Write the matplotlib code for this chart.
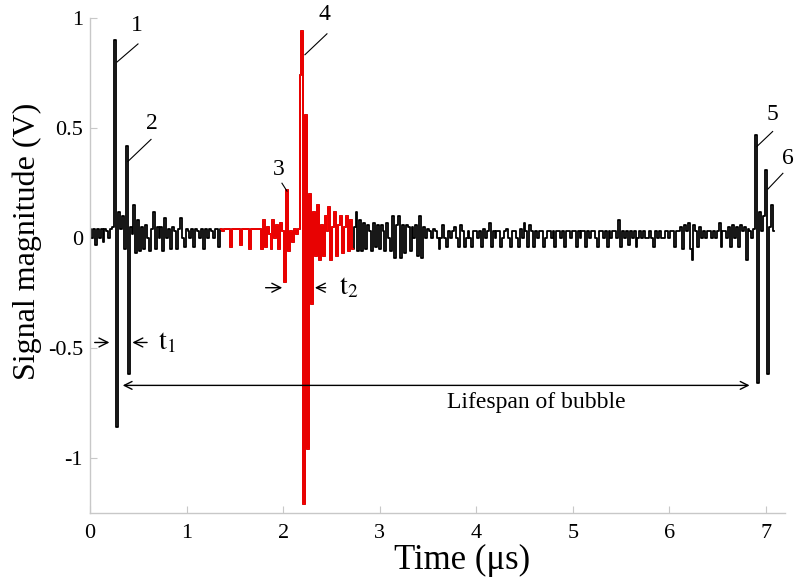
import numpy as np
import matplotlib
matplotlib.use('Agg')
import matplotlib.pyplot as plt

plt.rcParams['font.family'] = ['Liberation Serif', 'DejaVu Serif']
plt.rcParams['mathtext.fontset'] = 'stix'

dt = 0.02
signal = [
    0.04, 0.0, 0.04, -0.03, 0.04, 0.0, 0.04, -0.02, 0.04, 0.03,
    0.0, 0.04, 0.05, 0.90, -0.86, 0.12, 0.04, 0.10, -0.05, 0.42,
    -0.62, 0.05, 0.02, 0.15, -0.07, 0.08, -0.06, 0.05, -0.05, 0.06,
    0.0, -0.06, 0.04, 0.12, -0.05, 0.05, 0.0, 0.05, -0.06, 0.09,
    0.0, 0.04, -0.05, 0.05, 0.03, -0.05, 0.04, 0.09, 0.0, -0.04,
    0.04, 0.03, 0.0, 0.04, -0.04, 0.04, 0.03, 0.0, 0.04, -0.05,
    0.04, 0.0, 0.04, 0.03, 0.0, 0.04, 0.04, -0.04, 0.04, 0.03,
    0.04, 0.04, 0.04, -0.04, 0.04, 0.04, 0.04, 0.04, -0.03, 0.04,
    0.04, 0.04, 0.04, -0.05, 0.04, 0.04, 0.04, 0.04, 0.04, -0.05,
    0.08, -0.04, 0.05, 0.02, -0.05, 0.08, 0.0, 0.06, -0.05, 0.07,
    0.03, -0.20, 0.22, -0.06, 0.03, -0.02, 0.04, 0.02, 0.04, 0.74,
    0.94, -1.21, 0.56, -0.96, 0.20, -0.30, 0.12, -0.08, 0.15, -0.10,
    0.06, -0.08, 0.10, 0.03, 0.14, -0.10, 0.05, 0.12, -0.08, 0.06,
    0.10, -0.07, 0.05, 0.10, -0.06, 0.08, -0.05, 0.05, 0.12, -0.06,
    0.08, -0.06, 0.07, -0.05, 0.06, 0.03, -0.06, 0.07, -0.04, 0.06,
    -0.05, 0.06, 0.03, -0.06, 0.07, 0.0, -0.06, 0.10, -0.09, 0.06,
    0.10, -0.09, 0.06, -0.07, 0.06, 0.05, -0.06, 0.05, 0.0, 0.06,
    -0.08, 0.10, -0.09, 0.05, 0.0, 0.04, 0.03, 0.0, 0.04, 0.03,
    0.0, -0.05, 0.0, 0.06, 0.0, -0.04, 0.03, 0.0, 0.03, 0.05,
    0.0, -0.04, 0.06, 0.03, -0.04, 0.0, 0.03, 0.0, -0.04, 0.03,
    0.03, 0.0, 0.03, -0.04, 0.04, 0.0, 0.03, 0.07, -0.04, 0.03,
    0.0, 0.03, 0.03, -0.04, 0.0, 0.03, 0.04, 0.0, -0.04, 0.03,
    0.03, 0.0, -0.04, 0.04, 0.0, 0.07, 0.03, -0.04, 0.06, 0.03,
    -0.04, 0.03, 0.0, 0.03, 0.03, -0.04, 0.0, 0.03, 0.03, 0.0,
    0.03, -0.04, 0.03, 0.03, 0.0, 0.03, -0.04, 0.03, 0.03, 0.0,
    0.03, 0.03, -0.04, 0.03, 0.0, 0.03, 0.03, -0.04, 0.03, 0.0,
    0.03, 0.03, 0.0, -0.04, 0.03, 0.03, 0.0, 0.03, -0.04, 0.03,
    0.0, 0.03, 0.03, 0.0, 0.08, -0.04, 0.03, 0.0, 0.03, -0.03,
    0.03, 0.0, 0.03, -0.04, 0.0, 0.03, 0.0, 0.03, 0.0, 0.0,
    0.03, 0.0, -0.04, 0.03, 0.0, 0.03, 0.0, 0.0, 0.03, 0.03,
    0.0, 0.03, 0.03, -0.04, 0.03, 0.03, 0.05, -0.05, 0.06, 0.03,
    0.07, -0.05, -0.10, 0.06, 0.03, -0.04, 0.05, 0.0, 0.03, 0.0,
    0.03, 0.03, 0.0, 0.03, 0.0, 0.03, 0.07, -0.04, 0.03, 0.03,
    0.0, 0.05, -0.04, 0.06, 0.0, 0.05, -0.04, 0.06, 0.03, 0.05,
    -0.10, 0.04, 0.03, 0.0, 0.04, 0.47, -0.66, 0.12, 0.03, 0.10,
    0.31, -0.62, 0.05, 0.15, 0.03,
]
red_window = (1.36, 2.72)   # part of the trace drawn in red (us)
x_ticks = [0, 1, 2, 3, 4, 5, 6, 7]
y_ticks = [-1, -0.5, 0, 0.5, 1]

signal = np.array(signal)
t = np.arange(len(signal)) * dt
red = (t >= red_window[0] - 1e-9) & (t <= red_window[1] + 1e-9)

fig = plt.figure(figsize=(8, 5.84), dpi=100)
ax = fig.add_axes([0.1125, 0.1216, 0.869, 0.8476])

ax.plot(t, signal, color='black', lw=1.3, drawstyle='steps-mid')
ax.plot(t[red], signal[red], color='red', lw=1.3, drawstyle='steps-mid')

ax.set_xlim(0, 7.2)
ax.set_ylim(-1.25, 1.0)
ax.set_xticks(x_ticks)
ax.set_yticks(y_ticks)
ax.set_xticklabels([str(v) for v in x_ticks])
ax.set_yticklabels(['-1', '-0.5', '0', '0.5', '1'])
for s in ['top', 'right']:
    ax.spines[s].set_visible(False)
for s in ['left', 'bottom']:
    ax.spines[s].set_color('#c8c8c8')
    ax.spines[s].set_linewidth(1.0)
ax.tick_params(direction='in', length=5, color='#c8c8c8', labelsize=16, pad=5)
ax.tick_params(axis='x', pad=8)

ax.set_xlabel('Time (μs)', fontsize=25)
ax.xaxis.set_label_coords(0.535, -0.062, transform=ax.transAxes)
ax.xaxis.label.set_va('top')
ax.set_ylabel('Signal magnitude (V)', fontsize=23)
ax.yaxis.set_label_coords(-0.0906, 0.549, transform=ax.transAxes)
ax.yaxis.label.set_va('center')

# peak numbers with leader lines
labels = [
    ('1', (0.487, 0.968), (0.497, 0.882), (0.28, 0.80)),
    ('2', (0.642, 0.52), (0.632, 0.448), (0.393, 0.348)),
    ('3', (1.957, 0.312), (1.988, 0.249), (2.04, 0.213)),
    ('4', (2.433, 1.014), (2.454, 0.928), (2.226, 0.833)),
    ('5', (7.07, 0.561), (7.07, 0.484), (6.907, 0.416)),
    ('6', (7.228, 0.362), (7.176, 0.294), (7.02, 0.222)),
]
for txt, pos, p0, p1 in labels:
    ax.text(pos[0], pos[1], txt, fontsize=17, ha='center', va='center')
    ax.plot([p0[0], p1[0]], [p0[1], p1[1]], color='black', lw=0.8, clip_on=False)

arrow = dict(arrowstyle='->', color='black', lw=1.0, mutation_scale=16)
# t1
ax.annotate('', xy=(0.23, -0.475), xytext=(0.02, -0.475), arrowprops=arrow)
ax.annotate('', xy=(0.41, -0.475), xytext=(0.62, -0.475), arrowprops=arrow)
ax.text(0.70, -0.475, r'$\mathrm{t}_1$', fontsize=20, ha='left', va='center')
# t2
ax.annotate('', xy=(2.02, -0.226), xytext=(1.79, -0.226), arrowprops=arrow)
ax.annotate('', xy=(2.30, -0.226), xytext=(2.47, -0.226), arrowprops=arrow)
ax.text(2.58, -0.226, r'$\mathrm{t}_2$', fontsize=20, ha='left', va='center')
# lifespan
ax.annotate('', xy=(6.86, -0.67), xytext=(0.31, -0.67),
            arrowprops=dict(arrowstyle='<->', color='black', lw=1.0, mutation_scale=14))
ax.text(4.62, -0.75, 'Lifespan of bubble', fontsize=17, ha='center', va='center')

plt.savefig('out.png', dpi=100)
